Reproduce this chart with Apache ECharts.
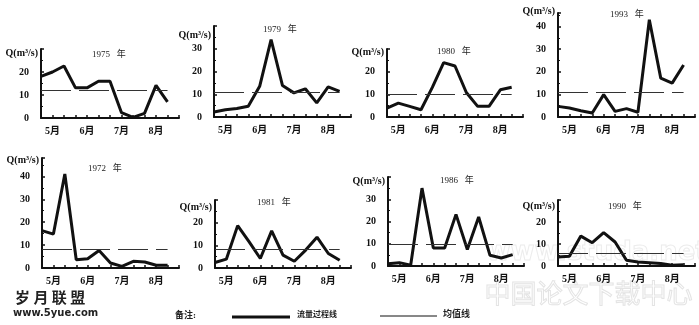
<!DOCTYPE html>
<html><head><meta charset="utf-8">
<script src="https://cdn.jsdelivr.net/npm/echarts@6/dist/echarts.min.js"></script>
<style>html,body{margin:0;padding:0;background:#fff}#c{width:699px;height:325px}</style>
</head><body><div id="c"></div>
<script>
// x categories: 12 dekads (May-Aug) + end of axis
const categories = ['', '5月', '', '', '6月', '', '', '7月', '', '', '8月', '', ''];
const years = ['1975', '1979', '1980', '1993', '1972', '1981', '1986', '1990'];
const flow1975 = [18.1, 20, 22.6, 13.1, 13.1, 16, 16, 2.3, 0.3, 2, 14.2, 7];
const flow1979 = [2.2, 3.2, 3.7, 4.7, 13.5, 34, 13.8, 10.6, 12.4, 6.2, 13.2, 11.3];
const flow1980 = [3.9, 6.1, 4.7, 3.2, 13.1, 24, 22.5, 10.8, 4.7, 4.7, 12, 13.1];
const flow1993 = [4.7, 4, 2.8, 1.8, 9.9, 2.5, 3.7, 2.1, 43, 17.2, 15, 23];
const flow1972 = [16.3, 14.8, 41, 3.6, 4, 7.6, 2.2, 0.7, 2.9, 2.6, 1.2, 1.2];
const flow1981 = [2.4, 3.9, 18.7, 11.6, 4.2, 16.4, 5.7, 3, 7.9, 13.6, 6.4, 3.4];
const flow1986 = [1, 1.5, 0.3, 35, 8.1, 8.1, 23.2, 7.4, 22, 4.8, 3.6, 5.1];
const flow1990 = [4.1, 4.4, 13.6, 10.6, 15.2, 10.9, 2.6, 1.8, 1.5, 1.1, 0.3, 0.6];
const flows = [flow1975, flow1979, flow1980, flow1993, flow1972, flow1981, flow1986, flow1990];
const meanValues = [12.2, 10.9, 10.1, 11, 8.4, 8.2, 9.8, 5.6];
const yMax = [30, 40, 30, 46, 48, 30, 40, 30];
const yInterval = 10;
const yName = 'Q(m³/s)';
const legendFlow = '流量过程线';
const legendMean = '均值线';
const noteLabel = '备注:';

// panel layout (pixels)
const layout = [
  {left: 41, top: 49, width: 138, height: 69, tx: 92, ty: 50, ny: 53},
  {left: 214, top: 26, width: 137, height: 91, tx: 263, ty: 25, ny: 35},
  {left: 387, top: 49, width: 136, height: 68, tx: 437, ty: 47, ny: 52},
  {left: 558, top: 13, width: 137, height: 104, tx: 610, ty: 10, ny: 11},
  {left: 42, top: 158, width: 137, height: 110, tx: 88, ty: 164, ny: 160},
  {left: 215, top: 200, width: 136, height: 68, tx: 257, ty: 198, ny: 207},
  {left: 388, top: 177, width: 136, height: 89, tx: 440, ty: 176, ny: 181},
  {left: 558, top: 200, width: 137, height: 66, tx: 608, ty: 202, ny: 206}
];

const serif = 'Liberation Serif, Noto Sans CJK SC, serif';
const ink = '#111';
const grids = [], xAxes = [], yAxes = [], series = [], titles = [], names = [];
layout.forEach((p, i) => {
  grids.push({left: p.left, top: p.top, width: p.width, height: p.height, show: false});
  xAxes.push({
    type: 'category', gridIndex: i, data: categories, boundaryGap: false,
    axisLine: {lineStyle: {color: ink, width: 2}},
    axisTick: {show: true, inside: true, length: 3, interval: 0, lineStyle: {color: ink, width: 1.5}},
    axisLabel: {interval: 0, margin: 8, fontSize: 10, fontWeight: 'bold', color: ink, fontFamily: serif},
    splitLine: {show: false}
  });
  yAxes.push({
    type: 'value', gridIndex: i, min: 0, max: yMax[i], interval: yInterval,
    axisLine: {show: true, lineStyle: {color: ink, width: 2}},
    axisTick: {show: true, inside: true, length: 3, lineStyle: {color: ink, width: 1.5}},
    minorTick: {show: true, splitNumber: 2, length: 2, lineStyle: {color: ink}},
    axisLabel: {margin: 12, fontSize: 10, fontWeight: 'bold', color: ink, fontFamily: serif, showMaxLabel: false},
    splitLine: {show: false}
  });
  titles.push({
    text: years[i] + '   年', left: p.tx, top: p.ty,
    textStyle: {fontSize: 9, fontWeight: 'normal', color: '#222', fontFamily: serif}, padding: 0
  });
  names.push({
    type: 'text', x: p.left - 3, y: p.ny, silent: true,
    style: {text: yName, align: 'right', verticalAlign: 'middle', fontSize: 10, fontWeight: 'bold', fill: ink, fontFamily: serif}
  });
  series.push({
    type: 'line', xAxisIndex: i, yAxisIndex: i, data: flows[i], showSymbol: false, symbol: 'none',
    lineStyle: {color: ink, width: 3}, z: 3,
    markLine: {
      silent: true, symbol: 'none', label: {show: false},
      lineStyle: {color: '#333', width: 1, type: [30, 8]},
      data: [[{coord: [0, meanValues[i]]}, {coord: [11, meanValues[i]]}]]
    }
  });
});

const chart = echarts.init(document.getElementById('c'), null, {renderer: 'canvas'});
chart.setOption({
  animation: false,
  backgroundColor: '#fff',
  title: titles,
  grid: grids, xAxis: xAxes, yAxis: yAxes, series: series,
  graphic: names.concat([
    {type: 'text', left: 486, top: 240, silent: true, z: -1,
      style: {text: 'www.studa.net', fontSize: 26, fontWeight: 'bold', fill: 'rgba(255,255,255,0)', stroke: '#ececec', lineWidth: 1, fontFamily: 'DejaVu Sans'}},
    {type: 'text', left: 484, top: 280, silent: true, z: -1,
      style: {text: '中国论文下载中心', fontSize: 26, fill: 'rgba(255,255,255,0)', stroke: '#e4e4e4', lineWidth: 1, fontFamily: 'Noto Sans CJK SC'}},
    {type: 'text', left: 15, top: 290, silent: true,
      style: {text: '岁 月 联 盟', fontSize: 15, fontWeight: 'bold', fill: '#222', fontFamily: 'Noto Sans CJK SC'}},
    {type: 'text', left: 13, top: 308, silent: true,
      style: {text: 'www.5yue.com', fontSize: 10, fontWeight: 'bold', fill: '#222', fontFamily: 'DejaVu Sans'}},
    {type: 'text', left: 175, top: 311, silent: true,
      style: {text: noteLabel, fontSize: 9, fontWeight: 'bold', fill: '#222', fontFamily: serif}},
    {type: 'line', silent: true, shape: {x1: 232, y1: 317, x2: 290, y2: 317}, style: {stroke: ink, lineWidth: 3}},
    {type: 'text', left: 297, top: 311, silent: true,
      style: {text: legendFlow, fontSize: 8, fontWeight: 'bold', fill: '#222', fontFamily: serif}},
    {type: 'line', silent: true, shape: {x1: 380, y1: 316, x2: 437, y2: 316}, style: {stroke: ink, lineWidth: 1}},
    {type: 'text', left: 443, top: 310, silent: true,
      style: {text: legendMean, fontSize: 9, fontWeight: 'bold', fill: '#222', fontFamily: serif}}
  ])
});
</script></body></html>
